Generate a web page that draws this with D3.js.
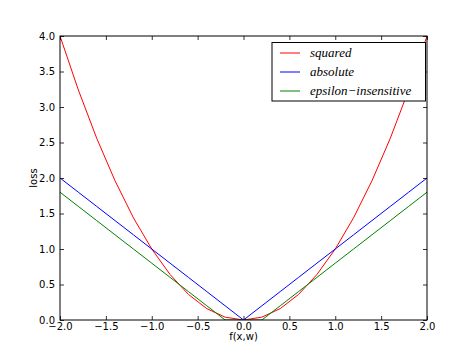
<!DOCTYPE html>
<html><head><meta charset="utf-8">
<script src="https://cdn.jsdelivr.net/npm/d3@7"></script>
<style>body{margin:0;background:#fff}svg{display:block}</style>
</head><body>
<script>
const xs = [-2.0,-1.8,-1.6,-1.4,-1.2,-1.0,-0.8,-0.6,-0.4,-0.2,0.0,0.2,0.4,0.6,0.8,1.0,1.2,1.4,1.6,1.8,2.0];
const squared = [4.0,3.24,2.56,1.96,1.44,1.0,0.64,0.36,0.16,0.04,0.0,0.04,0.16,0.36,0.64,1.0,1.44,1.96,2.56,3.24,4.0];
const absolute = [2.0,1.8,1.6,1.4,1.2,1.0,0.8,0.6,0.4,0.2,0.0,0.2,0.4,0.6,0.8,1.0,1.2,1.4,1.6,1.8,2.0];
const epsInsensitive = [1.8,1.6,1.4,1.2,1.0,0.8,0.6,0.4,0.2,0.0,0.0,0.0,0.2,0.4,0.6,0.8,1.0,1.2,1.4,1.6,1.8];
const seriesNames = ["squared","absolute","epsilon\u2212insensitive"];
const seriesColors = ["#ff0000","#0000ff","#008000"];
const xTicks = [-2.0,-1.5,-1.0,-0.5,0.0,0.5,1.0,1.5,2.0];
const yTicks = [0.0,0.5,1.0,1.5,2.0,2.5,3.0,3.5,4.0];
const xLabel = "f(x,w)", yLabel = "loss";

const W = 474, H = 356;
const L = 60, R = 427, T = 36, B = 320;
const svg = d3.select("body").append("svg").attr("width", W).attr("height", H);
const x = d3.scaleLinear().domain([-2, 2]).range([L, R]);
const y = d3.scaleLinear().domain([0, 4]).range([B, T]);
const fmt = d => d3.format(".1f")(d).replace("-", "\u2212");
const font = "DejaVu Sans, sans-serif";
const fs = 10;

const plot = svg.append("g");
plot.append("defs").append("clipPath").attr("id","clip").append("rect")
  .attr("x", L).attr("y", T).attr("width", R - L).attr("height", B - T);

const line = d3.line().x(d => x(d[0])).y(d => y(d[1]));
[squared, absolute, epsInsensitive].forEach((s, i) => {
  plot.append("path").datum(xs.map((v, j) => [v, s[j]]))
    .attr("d", line).attr("fill", "none").attr("stroke", seriesColors[i])
    .attr("stroke-width", 1).attr("clip-path", "url(#clip)");
});

function styleAxis(g) {
  g.select(".domain").remove();
  g.selectAll(".tick line").attr("stroke", "#000").attr("stroke-width", 0.8);
  g.selectAll("text").attr("font-family", font).attr("font-size", fs).attr("fill", "#000");
}
svg.append("g").attr("transform", `translate(0,${B})`)
  .call(d3.axisBottom(x).tickValues(xTicks).tickFormat(fmt).tickSizeInner(-4).tickPadding(2.5))
  .call(styleAxis);
svg.append("g").attr("transform", `translate(0,${T})`)
  .call(d3.axisTop(x).tickValues(xTicks).tickFormat("").tickSizeInner(-4))
  .call(styleAxis);
svg.append("g").attr("transform", `translate(${L},0)`)
  .call(d3.axisLeft(y).tickValues(yTicks).tickFormat(fmt).tickSizeInner(-4).tickPadding(5))
  .call(styleAxis);
svg.append("g").attr("transform", `translate(${R},0)`)
  .call(d3.axisRight(y).tickValues(yTicks).tickFormat("").tickSizeInner(-4))
  .call(styleAxis);

svg.append("rect").attr("x", L).attr("y", T).attr("width", R - L).attr("height", B - T)
  .attr("fill", "none").attr("stroke", "#000").attr("stroke-width", 1);

svg.append("text").attr("x", (L + R) / 2).attr("y", 340).attr("text-anchor", "middle")
  .attr("font-family", font).attr("font-size", fs).text(xLabel);
svg.append("text").attr("transform", `translate(37,${(T + B) / 2}) rotate(-90)`)
  .attr("text-anchor", "middle").attr("font-family", font).attr("font-size", fs).text(yLabel);

const lg = svg.append("g");
lg.append("rect").attr("x", 272).attr("y", 42.5).attr("width", 153.5).attr("height", 58.5)
  .attr("fill", "#fff").attr("stroke", "#000").attr("stroke-width", 1);
seriesNames.forEach((n, i) => {
  const yy = 53 + i * 19;
  lg.append("line").attr("x1", 280).attr("x2", 300).attr("y1", yy).attr("y2", yy)
    .attr("stroke", seriesColors[i]).attr("stroke-width", 1);
  lg.append("text").attr("x", 310).attr("y", yy + 4).attr("font-family", "Liberation Serif, serif")
    .attr("font-style", "italic").attr("font-size", 13).text(n);
});
</script>
</body></html>
